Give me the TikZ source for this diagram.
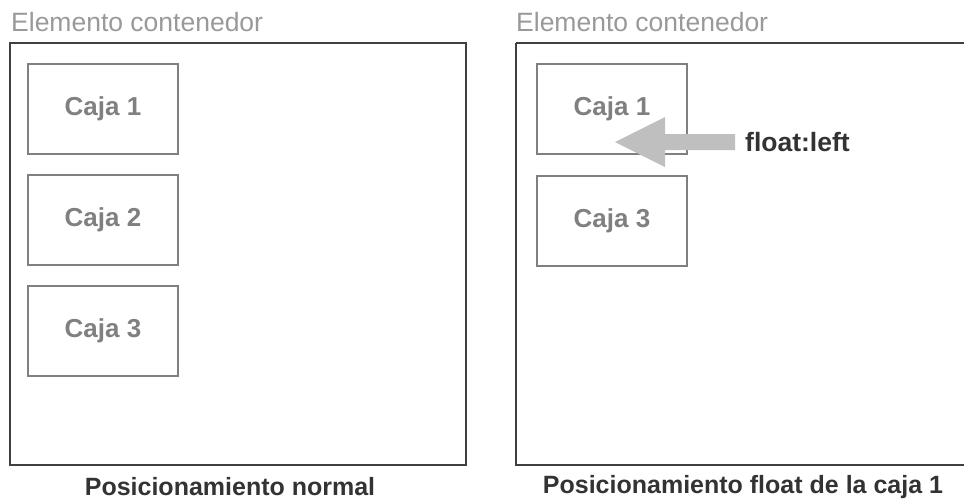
\documentclass[tikz,border=0pt]{standalone}
\usepackage{fontspec}
\setmainfont{Liberation Sans}
\begin{document}
\begin{tikzpicture}[x=1pt,y=-1pt,
  container/.style={draw=black!75, line width=2pt},
  cajabox/.style={draw=black!50, line width=2pt, minimum width=150pt, minimum height=90pt, inner sep=0pt, anchor=north west, text=black!50, font=\fontsize{26}{26}\selectfont\bfseries},
  heading/.style={anchor=west, text=black!40, font=\fontsize{26.5}{26.5}\selectfont, inner sep=0pt},
  caption/.style={text=black!80, font=\fontsize{25}{25}\selectfont\bfseries, inner sep=0pt}]
\useasboundingbox (0,0) rectangle (964,501);
% left
\node[heading] (h1) at (11,22) {Elemento contenedor};
\draw[container] (10,43) rectangle (466,465);
\node[cajabox] (a1) at (27,63) {Caja 1};
\node[cajabox] (a2) at (27,174) {Caja 2};
\node[cajabox] (a3) at (27,285) {Caja 3};
\node[caption] (c1) at (230,487) {Posicionamiento normal};
% right
\node[heading] (h2) at (516,22) {Elemento contenedor};
\draw[container] (516,43) -- (516,465) -- (966,465);
\draw[container] (516,43) -- (966,43);
\node[cajabox] (b1) at (536,63) {Caja 1};
\node[cajabox] (b3) at (536,175) {Caja 3};
\node[caption] (c2) at (743,487) {Posicionamiento float de la caja 1};
\node[anchor=west, text=black!80, font=\fontsize{26.5}{26.5}\selectfont\bfseries, inner sep=0pt] (fl) at (745,142) {float:left};
\fill[black!25] (735,134) -- (665,134) -- (665,117) -- (615,142) -- (665,167) -- (665,150) -- (735,150) -- cycle;
\end{tikzpicture}
\end{document}
